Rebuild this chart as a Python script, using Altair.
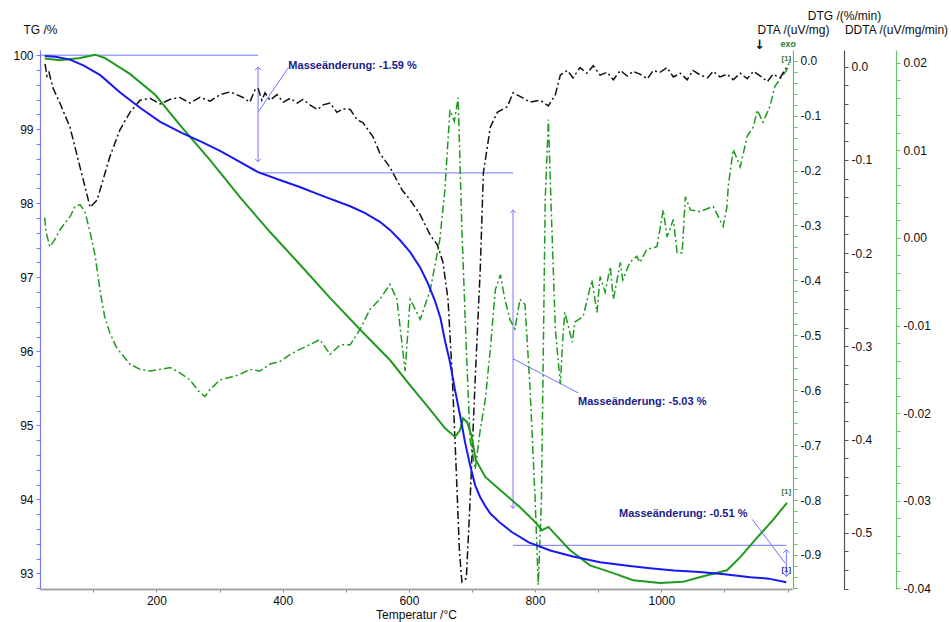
import altair as alt
import pandas as pd

# ---------------- data ----------------
# TG (blue, left axis, %)
T_TG = [23, 40, 63, 85, 111, 142, 174, 206, 240, 269, 300, 330, 361, 400, 427, 460, 507, 530, 554, 570,
        586, 602, 618, 630, 641, 650, 657, 665, 673, 681, 689, 697, 705, 713, 721, 729, 745, 763, 790, 824,
        860, 903, 950, 982, 1020, 1061, 1100, 1141, 1170, 1198]
TG = [99.99, 99.98, 99.94, 99.86, 99.73, 99.50, 99.29, 99.10, 98.95, 98.84, 98.71, 98.57, 98.42, 98.30, 98.22,
      98.11, 97.96, 97.87, 97.75, 97.64, 97.50, 97.34, 97.13, 96.92, 96.69, 96.45, 96.15, 95.86, 95.48, 95.14,
      94.77, 94.46, 94.19, 94.03, 93.91, 93.81, 93.68, 93.56, 93.42, 93.31, 93.23, 93.15, 93.10, 93.07, 93.04,
      93.02, 92.99, 92.95, 92.93, 92.88]

# DTA (green solid, first right axis, uV/mg)
T_DTA = [23, 47, 79, 103, 118, 158, 198, 237, 285, 332, 380, 428, 475, 523, 570, 602, 634, 657, 673, 681,
         686, 692, 699, 706, 721, 745, 776, 800, 811, 821, 833, 855, 887, 924, 955, 998, 1034, 1062, 1104, 1125,
         1152, 1177, 1199]
DTA = [0.004, 0.001, 0.005, 0.011, 0.005, -0.024, -0.062, -0.117, -0.181, -0.248, -0.312, -0.372, -0.432, -0.490,
       -0.545, -0.591, -0.636, -0.669, -0.685, -0.673, -0.651, -0.658, -0.682, -0.727, -0.758, -0.782, -0.813,
       -0.840, -0.855, -0.849, -0.864, -0.891, -0.919, -0.933, -0.946, -0.951, -0.949, -0.940, -0.928, -0.904,
       -0.868, -0.836, -0.805]

# DTG (black dash-dot, second right axis, %/min)
T_DTG = [23.5, 26.6, 29.8, 36.1, 47, 63, 79, 95, 106, 126, 142, 158, 174, 190, 206, 222, 237, 253, 269, 285,
         301, 317, 337, 348, 356, 361, 367, 372, 380, 391, 401, 412, 423, 432, 443, 455, 464, 475, 486, 496,
         507, 518, 527, 543, 554, 570, 581, 589, 602, 618, 634, 645, 654, 662, 669, 675, 680, 684, 691, 697,
         705, 713, 718, 729, 740, 756, 765, 779, 792, 808, 821, 832, 840, 851, 860, 871, 882, 892, 903, 914,
         924, 935, 946, 955, 966, 978, 987, 998, 1009, 1019, 1030, 1041, 1050, 1062, 1073, 1082, 1093, 1104,
         1114, 1125, 1136, 1146, 1157, 1168, 1177, 1188, 1198]
DTG = [0.003, -0.010, -0.006, -0.023, -0.039, -0.065, -0.108, -0.151, -0.143, -0.097, -0.068, -0.049, -0.036,
       -0.034, -0.040, -0.035, -0.033, -0.039, -0.033, -0.037, -0.030, -0.027, -0.033, -0.038, -0.025, -0.023,
       -0.036, -0.028, -0.036, -0.030, -0.038, -0.034, -0.039, -0.035, -0.041, -0.046, -0.041, -0.039, -0.049,
       -0.045, -0.046, -0.057, -0.060, -0.075, -0.093, -0.108, -0.122, -0.132, -0.143, -0.159, -0.181, -0.191,
       -0.210, -0.250, -0.336, -0.433, -0.519, -0.553, -0.549, -0.465, -0.336, -0.218, -0.114, -0.065, -0.049,
       -0.043, -0.028, -0.033, -0.038, -0.036, -0.042, -0.030, -0.009, -0.004, -0.012, -0.001, -0.007, 0.001,
       -0.009, -0.006, -0.014, -0.004, -0.010, -0.005, -0.008, -0.013, -0.004, -0.006, -0.001, -0.011, -0.007,
       -0.014, -0.004, -0.009, -0.012, -0.005, -0.011, -0.008, -0.014, -0.007, -0.013, -0.005, -0.010, -0.016,
       -0.008, -0.012, -0.001]

# DDTA (green dash-dot, third right axis, uV/mg/min)
T_DDTA = [23, 25, 31, 39, 47, 55, 63, 71, 79, 87, 95, 103, 111, 118, 126, 136, 142, 158, 174, 190,
          206, 222, 237, 253, 269, 277, 285, 301, 317, 332, 348, 364, 380, 396, 412, 428, 443, 459, 475, 491,
          507, 523, 538, 554, 570, 581, 594, 602, 618, 634, 649, 657, 665, 672, 678, 684, 691, 697, 705, 713,
          721, 729, 737, 745, 752, 760, 768, 776, 784, 792, 800, 805, 810, 816, 821, 825, 832, 840, 844, 847,
          859, 863, 876, 890, 898, 903, 911, 919, 924, 935, 939, 950, 961, 966, 977, 993, 1003, 1009, 1019, 1025,
          1033, 1038, 1046, 1061, 1082, 1098, 1104, 1106, 1114, 1125, 1136, 1146, 1152, 1161, 1172, 1180, 1188,
          1199, 1204]
DDTA = [0.0023, 0.0007, -0.0010, -0.0002, 0.0009, 0.0017, 0.0024, 0.0036, 0.0038, 0.0029, 0.0006, -0.0021,
        -0.0062, -0.0090, -0.0108, -0.0124, -0.0130, -0.0144, -0.0150, -0.0152, -0.0150, -0.0148, -0.0154,
        -0.0162, -0.0177, -0.0181, -0.0173, -0.0162, -0.0159, -0.0156, -0.0150, -0.0152, -0.0144, -0.0141,
        -0.0133, -0.0127, -0.0122, -0.0116, -0.0133, -0.0122, -0.0122, -0.0104, -0.0082, -0.0070, -0.0053,
        -0.0070, -0.0152, -0.0070, -0.0093, -0.0059, -0.0002, 0.0055, 0.0146, 0.0133, 0.0160, 0.0009, -0.0127,
        -0.0230, -0.0264, -0.0219, -0.0185, -0.0127, -0.0059, -0.0042, -0.0070, -0.0093, -0.0104, -0.0070,
        -0.0076, -0.0173, -0.0298, -0.0396, -0.0298, 0.0044, 0.0135, 0.0044, -0.0104, -0.0167, -0.0113,
        -0.0085, -0.0119, -0.0096, -0.0090, -0.0048, -0.0085, -0.0044, -0.0062, -0.0033, -0.0070, -0.0028,
        -0.0048, -0.0028, -0.0021, -0.0028, -0.0013, -0.0010, 0.0032, 0.0001, 0.0021, -0.0017, -0.0017, 0.0047,
        0.0032, 0.0030, 0.0036, 0.0013, 0.0036, 0.0059, 0.0101, 0.0081, 0.0116, 0.0127, 0.0146, 0.0132, 0.0150,
        0.0173, 0.0181, 0.0192, 0.0204]

# mass-change annotation segments (temperature, TG %)
SEG_X1 = [16, 361, 361, 361, 765, 765, 765, 1198, 1144]
SEG_Y1 = [100.0, 99.84, 98.41, 99.23, 97.91, 93.38, 95.90, 93.32, 93.73]
SEG_X2 = [361, 361, 765, 409, 765, 1198, 868, 1198, 1196]
SEG_Y2 = [100.0, 98.56, 98.41, 99.83, 93.88, 93.38, 95.44, 92.96, 93.14]
ARROW_UP_X = [361, 765, 1198]
ARROW_UP_Y = [99.84, 97.91, 93.32]
ARROW_DN_X = [361, 765, 1198]
ARROW_DN_Y = [98.56, 93.88, 92.96]
ANN_TEXT = ["Masseänderung: -1.59 %", "Masseänderung: -5.03 %", "Masseänderung: -0.51 %"]
ANN_X = [409, 868, 933]
ANN_Y = [99.815, 95.27, 93.76]
MARK_TEXT = ["[1]", "[1]", "[1]"]
MARK_X = [1198, 1198, 1198]
MARK_Y = [99.95, 94.10, 93.04]
MARK_SERIES = ["DDTA", "DTA", "TG"]
ARROW_GLYPH = ["↓"]
ARROW_GLYPH_X = [1156]
ARROW_GLYPH_Y = [100.085]
EXO_TEXT = ["exo"]
EXO_X = [1201]
EXO_Y = [100.105]

X_TICKS = list(range(100, 1201, 100))
TG_TICKS = [round(92.8 + 0.2 * i, 1) for i in range(37)]
DTA_TICKS = [round(-0.96 + 0.02 * i, 2) + 0.0 for i in range(49)]
DTG_TICKS = [round(-0.56 + 0.02 * i, 2) + 0.0 for i in range(29)]
DDTA_TICKS = [round(-0.040 + 0.002 * i, 3) + 0.0 for i in range(31)]

# ---------------- styling ----------------
FONT = "Liberation Sans"
TXT = "#0d0d0d"
BLUE = "#1818f0"
GREEN = "#1f9a1f"
ANN_LINE = "#7373ff"
ANN_TXT = "#1a1a8c"

X_DOMAIN = [15.5, 1207.0]
TG_DOMAIN = [92.79, 100.07]
DTA_DOMAIN = [-0.962, 0.0195]
DTG_DOMAIN = [-0.5604, 0.0179]
DDTA_DOMAIN = [-0.04008, 0.02145]

x_axis = alt.Axis(
    values=X_TICKS,
    labelExpr="datum.value % 200 == 0 && datum.value <= 1000 ? format(datum.value, 'd') : ''",
    title="Temperatur /°C", titleFont=FONT, titleFontSize=12, titleFontWeight="normal", titleColor=TXT,
    titleY=29, titleBaseline="alphabetic",
    labelFont=FONT, labelFontSize=12, labelColor=TXT, labelPadding=3, labelOverlap=False, labelFlush=False,
    domainColor="#a3a3a3", domainWidth=2, tickColor="#8a8a8a", tickSize=3, grid=False,
)


def xs(field="T"):
    return alt.X(f"{field}:Q", scale=alt.Scale(domain=X_DOMAIN, nice=False, zero=False), axis=x_axis)


def minus_fix(fmt, mult):
    return (f"abs(datum.value*{mult} - round(datum.value*{mult})) < 0.001 ? "
            f"replace(format(datum.value, '{fmt}'), '\u2212', '-') : ''")


def y_axis(orient, offset, color, values, label_expr, title, title_y=-16.5):
    return alt.Axis(
        orient=orient, offset=offset, values=values, labelExpr=label_expr,
        domainColor=color, tickColor=color, tickSize=4, domainWidth=1.2,
        labelFont=FONT, labelFontSize=12, labelColor=TXT, labelPadding=3,
        labelOverlap=False, labelFlush=False, grid=False,
        title=title, titleAngle=0, titleX=0, titleY=title_y, titleAlign="center",
        titleBaseline="alphabetic", titleFont=FONT, titleFontSize=12, titleFontWeight="normal",
        titleColor=TXT,
    )


tg_scale = alt.Scale(domain=TG_DOMAIN, nice=False, zero=False)

tg_df = pd.DataFrame({"T": T_TG, "v": TG})
dta_df = pd.DataFrame({"T": T_DTA, "v": DTA})
dtg_df = pd.DataFrame({"T": T_DTG, "v": DTG})
ddta_df = pd.DataFrame({"T": T_DDTA, "v": DDTA})

tg_line = alt.Chart(tg_df).mark_line(color=BLUE, strokeWidth=2).encode(
    x=xs(),
    y=alt.Y("v:Q", scale=tg_scale,
            axis=y_axis("left", 0, "#7a7aff", TG_TICKS, minus_fix("d", 1), "TG /%")),
)

dta_line = alt.Chart(dta_df).mark_line(color=GREEN, strokeWidth=2).encode(
    x=xs(),
    y=alt.Y("v:Q", scale=alt.Scale(domain=DTA_DOMAIN, nice=False, zero=False),
            axis=y_axis("right", 1, "#6cc06c", DTA_TICKS, minus_fix(".1f", 10), "DTA /(uV/mg)")),
)

dtg_line = alt.Chart(dtg_df).mark_line(color="#111111", strokeWidth=1.5, strokeDash=[8, 3, 2, 3]).encode(
    x=xs(),
    y=alt.Y("v:Q", scale=alt.Scale(domain=DTG_DOMAIN, nice=False, zero=False),
            axis=y_axis("right", 52, "#555555", DTG_TICKS, minus_fix(".1f", 10), "DTG /(%/min)", -31)),
)

ddta_line = alt.Chart(ddta_df).mark_line(color=GREEN, strokeWidth=1.5, strokeDash=[8, 3, 2, 3]).encode(
    x=xs(),
    y=alt.Y("v:Q", scale=alt.Scale(domain=DDTA_DOMAIN, nice=False, zero=False),
            axis=y_axis("right", 104, "#6cc06c", DDTA_TICKS, minus_fix(".2f", 100), "DDTA /(uV/mg/min)")),
)

seg_df = pd.DataFrame({"x1": SEG_X1, "y1": SEG_Y1, "x2": SEG_X2, "y2": SEG_Y2})
segs = alt.Chart(seg_df).mark_rule(color=ANN_LINE, strokeWidth=1).encode(
    x=xs("x1"), x2="x2:Q",
    y=alt.Y("y1:Q", scale=tg_scale, axis=None), y2="y2:Q",
)

up_df = pd.DataFrame({"x": ARROW_UP_X, "y": ARROW_UP_Y})
dn_df = pd.DataFrame({"x": ARROW_DN_X, "y": ARROW_DN_Y})
arrows_up = alt.Chart(up_df).mark_point(shape="M -1 1 L 0 0 L 1 1", filled=False, color=ANN_LINE,
                                        strokeWidth=1, size=36, opacity=1).encode(
    x=xs("x"), y=alt.Y("y:Q", scale=tg_scale, axis=None))
arrows_dn = alt.Chart(dn_df).mark_point(shape="M -1 -1 L 0 0 L 1 -1", filled=False, color=ANN_LINE,
                                        strokeWidth=1, size=36, opacity=1).encode(
    x=xs("x"), y=alt.Y("y:Q", scale=tg_scale, axis=None))

ann_df = pd.DataFrame({"x": ANN_X, "y": ANN_Y, "t": ANN_TEXT})
ann_text = alt.Chart(ann_df).mark_text(align="left", baseline="alphabetic", font=FONT, fontSize=11,
                                       fontWeight="bold", color=ANN_TXT).encode(
    x=xs("x"), y=alt.Y("y:Q", scale=tg_scale, axis=None), text="t:N")

mark_df = pd.DataFrame({"x": MARK_X, "y": MARK_Y, "t": MARK_TEXT, "s": MARK_SERIES})
marks = alt.Chart(mark_df).mark_text(align="center", baseline="middle", font=FONT, fontSize=8,
                                     fontWeight="bold").encode(
    x=xs("x"), y=alt.Y("y:Q", scale=tg_scale, axis=None), text="t:N",
    color=alt.Color("s:N", scale=alt.Scale(domain=["DDTA", "DTA", "TG"],
                                           range=["#3c7a3c", "#3c7a3c", "#3030a0"]), legend=None),
)

arrow_df = pd.DataFrame({"x": ARROW_GLYPH_X, "y": ARROW_GLYPH_Y, "t": ARROW_GLYPH})
arrow_glyph = alt.Chart(arrow_df).mark_text(align="center", baseline="alphabetic", font="DejaVu Sans",
                                            fontSize=13, fontWeight="bold", color="#111111").encode(
    x=xs("x"), y=alt.Y("y:Q", scale=tg_scale, axis=None), text="t:N")

exo_df = pd.DataFrame({"x": EXO_X, "y": EXO_Y, "t": EXO_TEXT})
exo = alt.Chart(exo_df).mark_text(align="center", baseline="alphabetic", font=FONT, fontSize=9,
                                  fontWeight="bold", color="#2d7a2d").encode(
    x=xs("x"), y=alt.Y("y:Q", scale=tg_scale, axis=None), text="t:N")

chart = alt.layer(
    segs, arrows_up, arrows_dn, ddta_line, dtg_line, dta_line, tg_line, ann_text, marks, arrow_glyph, exo
).resolve_scale(y="independent").properties(
    width=752, height=539,
    autosize=alt.AutoSizeParams(type="none"),
    padding={"left": 40, "top": 50, "right": 159, "bottom": 33},
    background="white",
).configure_view(stroke="transparent")

chart.save("out.html", embed_options={"renderer": "svg", "actions": False})
